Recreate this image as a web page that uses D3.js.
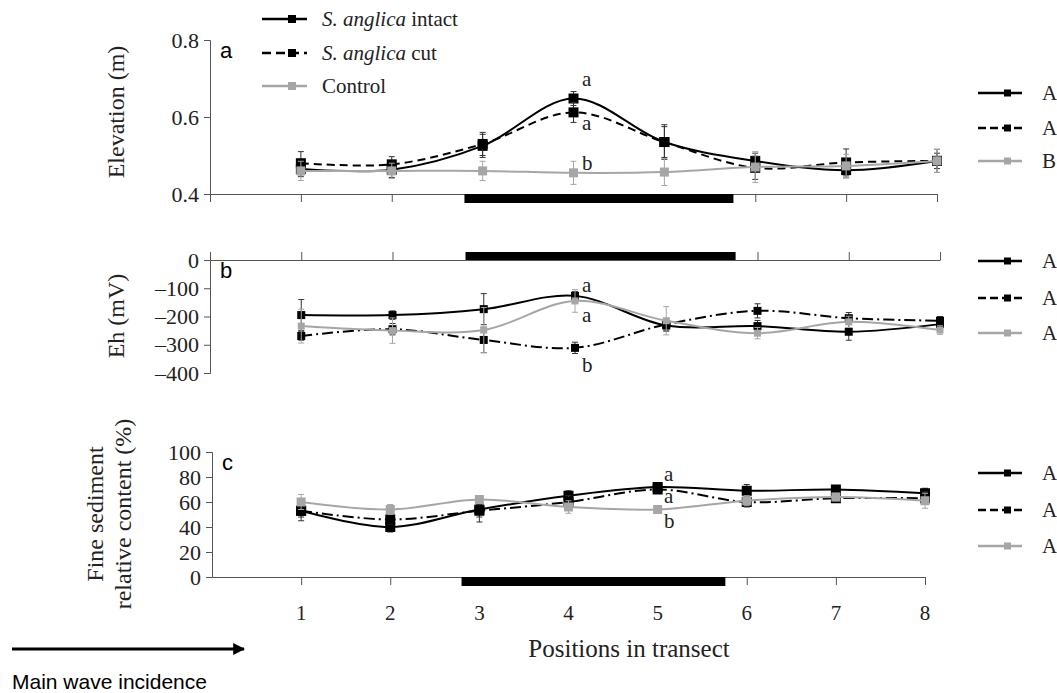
<!DOCTYPE html>
<html>
<head>
<meta charset="utf-8">
<script src="https://cdn.jsdelivr.net/npm/d3@7"></script>
<style>
  body { margin: 0; background: #fff; }
  svg { display: block; }
</style>
</head>
<body>
<svg width="1057" height="693"></svg>
<script>
// positions along the transect
var positions = [1, 2, 3, 4, 5, 6, 7, 8];
var xTickLabels = ['1', '2', '3', '4', '5', '6', '7', '8'];
var vegZone = [2.8, 5.76];  // black bar (S. anglica patch)

var seriesNames = ['S. anglica intact', 'S. anglica cut', 'Control'];

// a) elevation (m)
var elevIntact = [0.465, 0.463, 0.525, 0.648, 0.535, 0.486, 0.462, 0.486];
var elevCut = [0.48, 0.477, 0.53, 0.612, 0.535, 0.468, 0.482, 0.486];
var elevControl = [0.46, 0.46, 0.46, 0.455, 0.457, 0.47, 0.473, 0.486];
var elevIntactErr = [0.02, 0.02, 0.03, 0.018, 0.045, 0.02, 0.02, 0.02];
var elevCutErr = [0.03, 0.02, 0.03, 0.026, 0.04, 0.03, 0.035, 0.03];
var elevControlErr = [0.025, 0.02, 0.025, 0.03, 0.035, 0.04, 0.03, 0.03];
var elevTicks = [0.4, 0.6, 0.8];
var elevLetters = ['A', 'A', 'B'];
var elevSig = ['a', 'a', 'b'];

// b) Eh (mV)
var ehIntact = [-195, -195, -174, -127, -232, -234, -254, -227];
var ehCut = [-269, -245, -283, -311, -228, -180, -206, -215];
var ehControl = [-234, -250, -248, -145, -215, -259, -219, -248];
var ehIntactErr = [55, 15, 55, 15, 20, 20, 30, 15];
var ehCutErr = [15, 20, 45, 20, 20, 25, 20, 15];
var ehControlErr = [60, 45, 80, 40, 50, 20, 20, 15];
var ehTicks = [0, -100, -200, -300, -400];
var ehLetters = ['A', 'A', 'A'];
var ehSig = ['a', 'a', 'b'];

// c) fine sediment (%)
var fineIntact = [53, 40, 54, 65, 72, 69, 70, 67];
var fineCut = [53, 46, 53, 60, 70, 60, 63, 63];
var fineControl = [60, 54, 62, 56, 54, 61, 64, 61];
var fineIntactErr = [8, 4, 10, 4, 3, 5, 3, 4];
var fineCutErr = [5, 4, 5, 5, 3, 4, 3, 5];
var fineControlErr = [6, 4, 3, 5, 3, 4, 3, 6];
var fineTicks = [0, 20, 40, 60, 80, 100];
var fineLetters = ['A', 'A', 'A'];
var fineSig = ['a', 'a', 'b'];

var gray = '#a6a6a6';
var axisCol = '#555';
var serif = '"Liberation Serif", "Times New Roman", serif';
var sans = '"Liberation Sans", Arial, sans-serif';

var svg = d3.select('svg');

var panels = [
    {id: 'a', series: [elevIntact, elevCut, elevControl], errs: [elevIntactErr, elevCutErr, elevControlErr],
     ticks: elevTicks, dom: [0.4, 0.8], yr: [194, 40], xr: [210, 937], x0axis: 194, barY: 194, barH: 9,
     tickDir: 1, fmt: d3.format('.1f'), cutDash: '8,5', mk: 10, letters: elevLetters, legY: [93, 128, 161],
     sig: elevSig, sigY: [86, 130, 170], sigX: 582, label: ['Elevation (m)'], labelY: 112, labelX: [124]},
    {id: 'b', series: [ehIntact, ehCut, ehControl], errs: [ehIntactErr, ehCutErr, ehControlErr],
     ticks: ehTicks, dom: [-400, 0], yr: [373, 260], xr: [210, 940], x0axis: 260, barY: 252, barH: 8,
     tickDir: -1, fmt: function(d) { return d === 0 ? '0' : '\u2013' + Math.abs(d); }, cutDash: '11,4,2,4', mk: 8,
     letters: ehLetters, legY: [261, 298, 333],
     sig: ehSig, sigY: [292, 322, 372], sigX: 582, label: ['Eh (mV)'], labelY: 316, labelX: [124]},
    {id: 'c', series: [fineIntact, fineCut, fineControl], errs: [fineIntactErr, fineCutErr, fineControlErr],
     ticks: fineTicks, dom: [0, 100], yr: [577, 452], xr: [212, 925], x0axis: 577, barY: 577, barH: 9,
     tickDir: 1, fmt: d3.format('d'), cutDash: '11,4,2,4', mk: 10, letters: fineLetters, legY: [473, 510, 546],
     sig: fineSig, sigY: [481, 503, 528], sigX: 664, label: ['Fine sediment', 'relative content (%)'], labelY: 514, labelX: [103, 131]}
];

panels.forEach(function(p) {
    var x = d3.scaleLinear().domain([0, 8]).range(p.xr);
    var y = d3.scaleLinear().domain(p.dom).range(p.yr);
    var g = svg.append('g');

    // y axis
    var yAxis = g.append('g')
        .attr('transform', 'translate(' + p.xr[0] + ',0)')
        .call(d3.axisLeft(y).tickValues(p.ticks).tickFormat(p.fmt).tickSize(6).tickPadding(5));
    yAxis.select('.domain').attr('stroke', axisCol);
    yAxis.selectAll('.tick line').attr('stroke', axisCol);
    yAxis.selectAll('.tick text')
        .style('font-family', serif)
        .style('font-size', '22px')
        .attr('fill', '#222');

    // x axis
    var xAxisGen = p.tickDir > 0 ? d3.axisBottom(x) : d3.axisTop(x);
    var xAxis = g.append('g')
        .attr('transform', 'translate(0,' + p.x0axis + ')')
        .call(xAxisGen.tickValues(d3.range(0, 9)).tickSize(8).tickSizeOuter(0).tickFormat(''));
    xAxis.select('.domain').attr('stroke', axisCol);
    xAxis.selectAll('.tick line').attr('stroke', axisCol);
    if (p.id === 'c') {
        xAxis.selectAll('.tick').filter(function(d) { return d === 0; }).select('line').remove();
        g.selectAll('.xlab').data(positions).enter().append('text')
            .attr('x', function(d) { return x(d); })
            .attr('y', 620)
            .attr('text-anchor', 'middle')
            .attr('font-family', serif).attr('font-size', 21).attr('fill', '#222')
            .text(function(d, i) { return xTickLabels[i]; });
    }

    // vegetation bar
    g.append('rect')
        .attr('x', x(vegZone[0]))
        .attr('width', x(vegZone[1]) - x(vegZone[0]))
        .attr('y', p.barY)
        .attr('height', p.barH)
        .attr('fill', '#000');

    // panel letter
    g.append('text')
        .attr('x', p.xr[0] + 10).attr('y', y(p.dom[1]) + 18)
        .attr('font-family', sans).attr('font-size', 22).attr('fill', '#000')
        .text(p.id);

    // y label
    p.label.forEach(function(t, i) {
        g.append('text')
            .attr('transform', 'translate(' + p.labelX[i] + ',' + p.labelY + ') rotate(-90)')
            .attr('text-anchor', 'middle')
            .attr('font-family', serif).attr('font-size', 24).attr('fill', '#222')
            .text(t);
    });

    var styles = [
        {col: '#000', dash: null, w: 2, ecol: '#333'},
        {col: '#000', dash: p.cutDash, w: 2, ecol: '#333'},
        {col: gray, dash: null, w: 2, ecol: gray}
    ];

    var line = d3.line()
        .x(function(d, i) { return x(positions[i]); })
        .y(function(d) { return y(d); })
        .curve(d3.curveCatmullRom.alpha(0.5));

    p.series.forEach(function(vals, si) {
        var st = styles[si];
        var errs = p.errs[si];
        // error bars
        var eb = g.append('g');
        vals.forEach(function(v, i) {
            var cx = x(positions[i]);
            var top = y(v + errs[i]), bot = y(v - errs[i]);
            eb.append('line').attr('x1', cx).attr('x2', cx).attr('y1', top).attr('y2', bot)
                .attr('stroke', st.ecol).attr('stroke-width', 1);
            [top, bot].forEach(function(yy) {
                eb.append('line').attr('x1', cx - 3).attr('x2', cx + 3).attr('y1', yy).attr('y2', yy)
                    .attr('stroke', st.ecol).attr('stroke-width', 1);
            });
        });
        g.append('path')
            .datum(vals)
            .attr('d', line)
            .attr('fill', 'none')
            .attr('stroke', st.col)
            .attr('stroke-width', st.w)
            .attr('stroke-dasharray', st.dash);
        var s = si === 2 ? p.mk - 1 : p.mk;
        g.selectAll('.mk' + si).data(vals).enter().append('rect')
            .attr('x', function(d, i) { return x(positions[i]) - s / 2; })
            .attr('y', function(d) { return y(d) - s / 2; })
            .attr('width', s).attr('height', s)
            .attr('fill', st.col);
    });

    // significance letters
    p.sig.forEach(function(t, i) {
        g.append('text')
            .attr('x', p.sigX).attr('y', p.sigY[i])
            .attr('font-family', serif).attr('font-size', 21).attr('fill', '#222')
            .text(t);
    });

    // right legend
    p.letters.forEach(function(t, i) {
        var st = styles[i];
        var ly = p.legY[i];
        var lg = g.append('g');
        lg.append('line').attr('x1', 978).attr('x2', 1022).attr('y1', ly).attr('y2', ly)
            .attr('stroke', st.col).attr('stroke-width', 2.5)
            .attr('stroke-dasharray', i === 1 ? '8,4' : null);
        lg.append('rect').attr('x', 1004).attr('y', ly - 3.5).attr('width', 7).attr('height', 7).attr('fill', st.col);
        lg.append('text').attr('x', 1042).attr('y', ly + 7)
            .attr('font-family', serif).attr('font-size', 21).attr('fill', '#222')
            .text(t);
    });
});

// top-left legend
var legRows = [19, 53, 86];
var legStyle = [
    {col: '#000', dash: null},
    {col: '#000', dash: '9,5'},
    {col: gray, dash: null}
];
seriesNames.forEach(function(name, i) {
    var ly = legRows[i];
    svg.append('line').attr('x1', 262).attr('x2', 307).attr('y1', ly).attr('y2', ly)
        .attr('stroke', legStyle[i].col).attr('stroke-width', 2.5).attr('stroke-dasharray', legStyle[i].dash);
    svg.append('rect').attr('x', 288).attr('y', ly - 4).attr('width', 8).attr('height', 8).attr('fill', legStyle[i].col);
    var t = svg.append('text').attr('x', 322).attr('y', ly + 7)
        .attr('font-family', serif).attr('font-size', 21).attr('fill', '#222');
    if (name.indexOf('S. anglica') === 0) {
        t.append('tspan').attr('font-style', 'italic').text('S. anglica');
        t.append('tspan').text(name.replace('S. anglica', ''));
    } else {
        t.text(name);
    }
});

// x title
svg.append('text').attr('x', 629).attr('y', 657).attr('text-anchor', 'middle')
    .attr('font-family', serif).attr('font-size', 25).attr('fill', '#222')
    .text('Positions in transect');

// wave incidence arrow
svg.append('defs').append('marker')
    .attr('id', 'arr').attr('viewBox', '0 0 10 10').attr('refX', 9).attr('refY', 5)
    .attr('markerWidth', 4).attr('markerHeight', 4).attr('orient', 'auto')
    .append('path').attr('d', 'M0,0 L10,5 L0,10 z').attr('fill', '#000');
svg.append('line').attr('x1', 12).attr('x2', 244).attr('y1', 649).attr('y2', 649)
    .attr('stroke', '#000').attr('stroke-width', 3).attr('marker-end', 'url(#arr)');
svg.append('text').attr('x', 12).attr('y', 689)
    .attr('font-family', sans).attr('font-size', 21).attr('fill', '#000')
    .text('Main wave incidence');
</script>
</body>
</html>
